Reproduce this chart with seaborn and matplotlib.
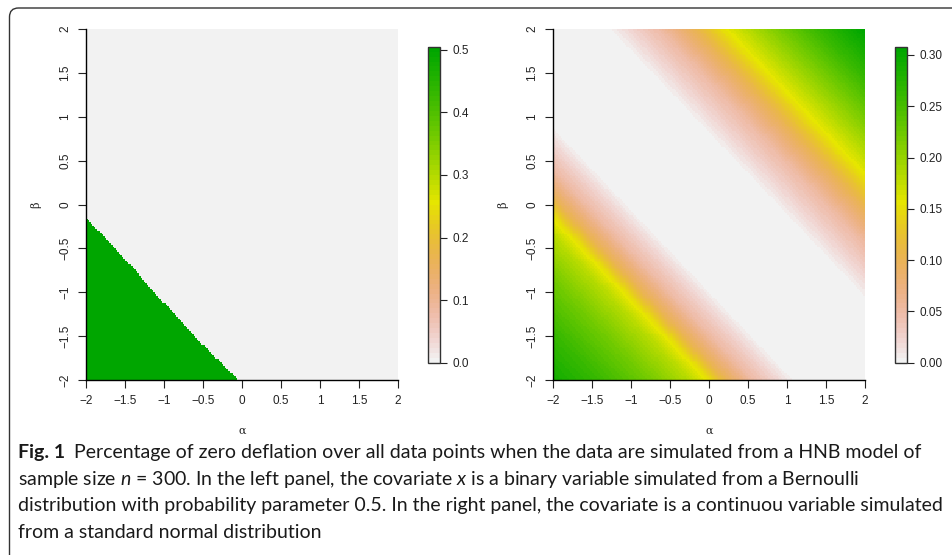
import numpy as np
import pandas as pd
import matplotlib
matplotlib.use("Agg")
import matplotlib.pyplot as plt
import seaborn as sns
from matplotlib.colors import ListedColormap, hsv_to_rgb
from matplotlib.patches import FancyBboxPatch
from matplotlib import font_manager as fm

# ---------------- data ----------------
alpha_ticks = [-2, -1.5, -1, -0.5, 0, 0.5, 1, 1.5, 2]
beta_ticks = [-2, -1.5, -1, -0.5, 0, 0.5, 1, 1.5, 2]
tick_labels = ["\u22122", "\u22121.5", "\u22121", "\u22120.5", "0", "0.5", "1", "1.5", "2"]

# left panel: cells below a boundary line hold the high value, others are 0
left_high_value = 0.505
left_boundary_alpha = [-2.0, -1.5, -1.0, -0.5, -0.05]
left_boundary_beta = [-0.15, -0.62, -1.12, -1.60, -2.00]

# right panel: value profile along the diagonal s = alpha + w * beta
right_beta_weight = 1.07
right_s = [-4.14, -3.54, -2.90, -2.38, -2.13, -1.91, -1.58, -1.02, 0.82, 1.51, 1.94, 2.30, 2.74, 3.52, 4.14]
right_val = [0.29, 0.26, 0.22, 0.18, 0.15, 0.10, 0.05, 0.0, 0.0, 0.05, 0.10, 0.15, 0.19, 0.26, 0.308]

left_cbar_ticks = [0.0, 0.1, 0.2, 0.3, 0.4, 0.5]
left_cbar_labels = ["0.0", "0.1", "0.2", "0.3", "0.4", "0.5"]
right_cbar_ticks = [0.0, 0.05, 0.10, 0.15, 0.20, 0.25, 0.30]
right_cbar_labels = ["0.00", "0.05", "0.10", "0.15", "0.20", "0.25", "0.30"]

caption_bold = "Fig. 1"
caption_lines = [
    "Percentage of zero deflation over all data points when the data are simulated from a HNB model of",
    "sample size $n$ = 300. In the left panel, the covariate $x$ is a binary variable simulated from a Bernoulli",
    "distribution with probability parameter 0.5. In the right panel, the covariate is a continuou variable simulated",
    "from a standard normal distribution",
]

# ---------------- grid ----------------
N = 200
centers = -2 + (np.arange(N) + 0.5) * 4.0 / N
alpha_grid = centers
beta_grid = centers[::-1]  # top row = beta 2
A, B = np.meshgrid(alpha_grid, beta_grid)

bnd = np.interp(alpha_grid, left_boundary_alpha, left_boundary_beta, right=-3.0)
left_field = np.where(B < bnd[None, :], left_high_value, 0.0)
right_field = np.interp(A + right_beta_weight * B, right_s, right_val)

df_left = pd.DataFrame(left_field, index=np.round(beta_grid, 3), columns=np.round(alpha_grid, 3))
df_right = pd.DataFrame(right_field, index=np.round(beta_grid, 3), columns=np.round(alpha_grid, 3))

# ---------------- colormap: R terrain.colors reversed ----------------
def r_terrain(n):
    k = n // 2
    h1 = np.linspace(1 / 3, 1 / 6, k)
    s1 = np.ones(k)
    v1 = np.linspace(0.65, 0.9, k)
    m = n - k + 1
    h2 = np.linspace(1 / 6, 0, m)[1:]
    s2 = np.linspace(1, 0, m)[1:]
    v2 = np.linspace(0.9, 0.95, m)[1:]
    hsv = np.stack([np.concatenate([h1, h2]), np.concatenate([s1, s2]), np.concatenate([v1, v2])], axis=1)
    return hsv_to_rgb(hsv)

cmap = ListedColormap(r_terrain(64)[::-1])

# ---------------- fonts ----------------
def pick(fams):
    for f in fams:
        try:
            fm.findfont(f, fallback_to_default=False)
            return f
        except Exception:
            pass
    return "DejaVu Sans"

tick_font = pick(["Liberation Sans", "Arial"])
cap_font = pick(["Liberation Sans Narrow", "Lato", "Open Sans"])

sns.set_style("white")
plt.rcParams["font.family"] = [tick_font, "DejaVu Sans"]
plt.rcParams["mathtext.fontset"] = "custom"
plt.rcParams["mathtext.it"] = cap_font + ":italic"
plt.rcParams["mathtext.rm"] = cap_font

W, H = 953, 555
fig = plt.figure(figsize=(W / 100, H / 100), dpi=100)
fig.patch.set_facecolor("white")

def fx(px):
    return px / W

def fy(py):
    return 1 - py / H

ax_l = fig.add_axes([fx(86), fy(380), fx(398 - 86), (380 - 29) / H])
cax_l = fig.add_axes([fx(428), fy(362.7), fx(12), (362.7 - 46.7) / H])
ax_r = fig.add_axes([fx(553), fy(380), fx(865 - 553), (380 - 29) / H])
cax_r = fig.add_axes([fx(895), fy(362.7), fx(12), (362.7 - 46.7) / H])

tick_color = "#222222"

for ax, cax, df, vmax, cticks, clabels in [
    (ax_l, cax_l, df_left, 0.505, left_cbar_ticks, left_cbar_labels),
    (ax_r, cax_r, df_right, 0.308, right_cbar_ticks, right_cbar_labels),
]:
    sns.heatmap(df, ax=ax, cmap=cmap, vmin=0, vmax=vmax, cbar=True, cbar_ax=cax,
                xticklabels=False, yticklabels=False, rasterized=True)
    ax.set_xlim(0, N)
    ax.set_ylim(N, 0)
    xpos = (np.array(alpha_ticks) + 2) / 4 * N
    ypos = (2 - np.array(beta_ticks)) / 4 * N
    ax.set_xticks(xpos)
    ax.set_xticklabels(tick_labels)
    ax.set_yticks(ypos)
    ax.set_yticklabels(tick_labels, rotation=90, va="center")
    ax.tick_params(axis="both", which="both", direction="out", length=5.5, width=0.8,
                   colors=tick_color, labelsize=8.5, left=True, bottom=True)
    ax.tick_params(axis="x", pad=5)
    ax.tick_params(axis="y", pad=5)
    for sp in ["left", "bottom"]:
        ax.spines[sp].set_visible(True)
        ax.spines[sp].set_color("black")
        ax.spines[sp].set_linewidth(1.0)
    for sp in ["top", "right"]:
        ax.spines[sp].set_visible(False)
    ax.set_xlabel("\u03b1", fontsize=8, family="DejaVu Serif", labelpad=14, color=tick_color)
    ax.set_ylabel("\u03b2", fontsize=8, family="DejaVu Serif", labelpad=13, color=tick_color)

    cb = ax.collections[0].colorbar
    cb.set_ticks(cticks)
    cb.set_ticklabels(clabels)
    cb.outline.set_visible(True)
    cb.outline.set_edgecolor("#333333")
    cb.outline.set_linewidth(1.0)
    cb.ax.tick_params(direction="out", length=5, width=0.8, pad=4, labelsize=8.5,
                      colors=tick_color, right=True)

# frame (rounded corner, top-left)
frame = FancyBboxPatch((9.5, -30), 1000, 555 - 8 + 30, boxstyle="round,pad=0,rounding_size=9",
                       transform=None, fill=False, edgecolor="#333333", linewidth=1.0)
fig.add_artist(frame)

# caption
cap_size = 13.5
baselines = [458, 484.5, 511, 537.5]
t_bold = fig.text(fx(18), fy(baselines[0]), caption_bold, fontsize=cap_size, fontweight="bold",
                  family=cap_font, va="baseline", ha="left", color="#1a1a1a")
fig.canvas.draw()
r = fig.canvas.get_renderer()
bb = t_bold.get_window_extent(r)
texts = []
texts.append(fig.text((bb.x1 + 9) / W, fy(baselines[0]), caption_lines[0], fontsize=cap_size,
                      family=cap_font, va="baseline", ha="left", color="#1a1a1a"))
for i in range(1, 4):
    texts.append(fig.text(fx(18), fy(baselines[i]), caption_lines[i], fontsize=cap_size,
                          family=cap_font, va="baseline", ha="left", color="#1a1a1a"))
fig.canvas.draw()
w3 = texts[2].get_window_extent(r).width
scale = (940 - 18) / w3
for t in texts + [t_bold]:
    t.set_fontsize(cap_size * scale)
fig.canvas.draw()
bb = t_bold.get_window_extent(r)
texts[0].set_x((bb.x1 + 9) / W)

fig.savefig("out.png", dpi=100)
